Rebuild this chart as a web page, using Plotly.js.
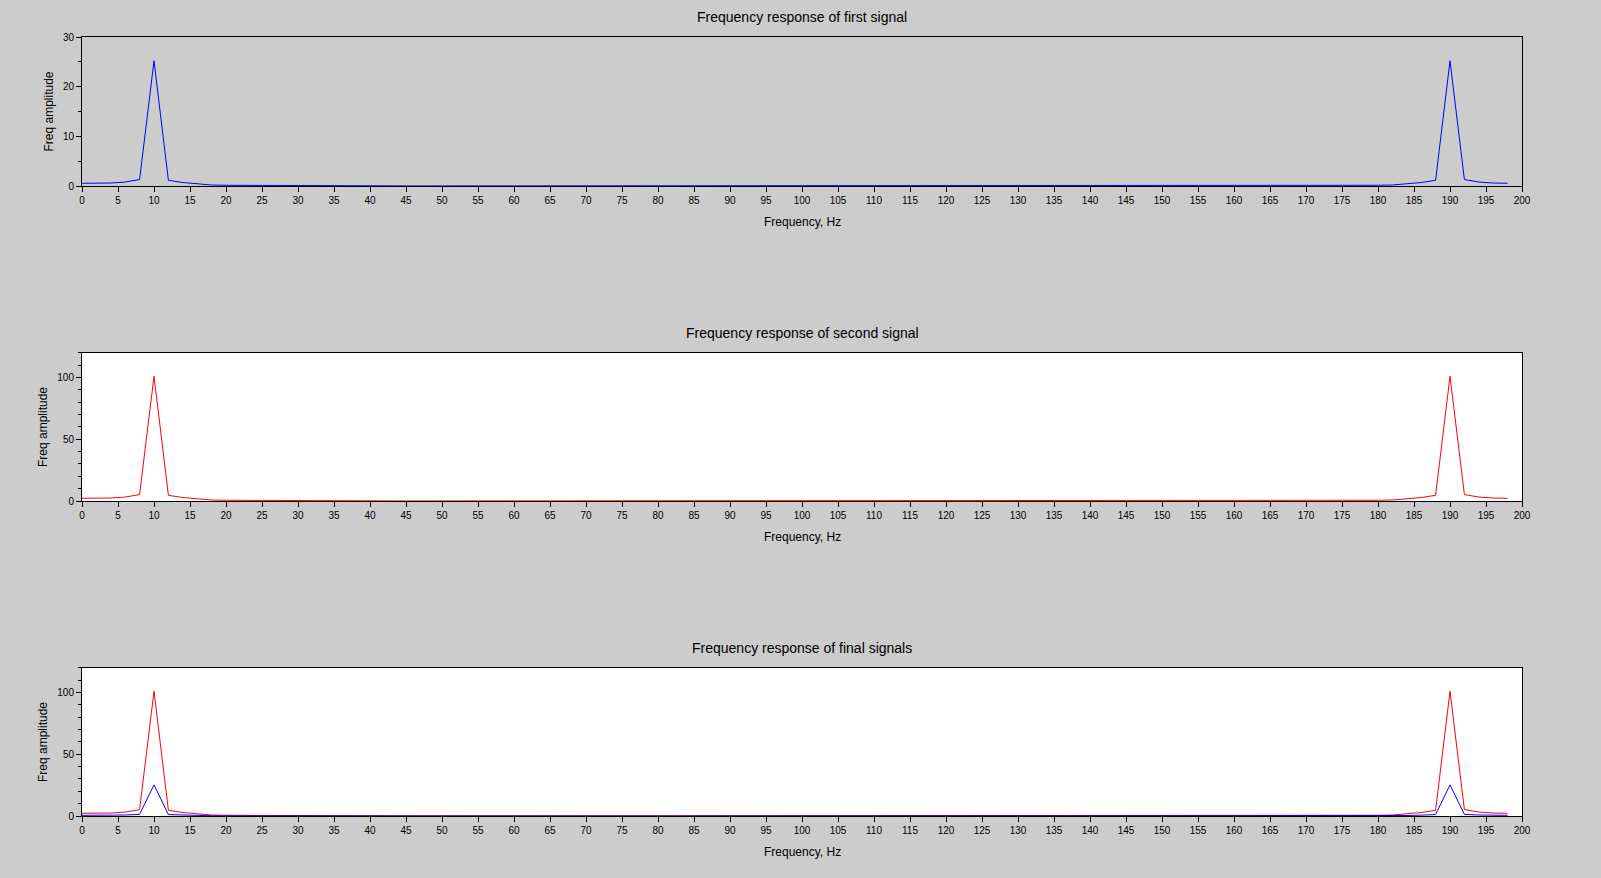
<!DOCTYPE html>
<html>
<head>
<meta charset="utf-8">
<script src="https://cdn.plot.ly/plotly-3.0.1.min.js"></script>
<style>html,body{margin:0;padding:0;background:#cccccc;}#chart{width:1601px;height:878px;}</style>
</head>
<body>
<div id="chart"></div>
<script>
// Frequency axis (Hz)
const freq = [0,2,4,6,8,10,12,14,16,18,20,22,24,26,28,30,32,34,36,38,40,42,44,46,48,50,52,54,56,58,60,62,64,66,68,70,72,74,76,78,80,82,84,86,88,90,92,94,96,98,100,102,104,106,108,110,112,114,116,118,120,122,124,126,128,130,132,134,136,138,140,142,144,146,148,150,152,154,156,158,160,162,164,166,168,170,172,174,176,178,180,182,184,186,188,190,192,194,196,198];

// Magnitude of first signal's spectrum
const firstSignal = [0.55,0.55,0.6,0.8,1.3,25.2,1.15,0.7,0.4,0.2,0.15,0.13,0.12,0.12,0.03,0.02,0.02,0.02,0.01,0.01,0.01,0.01,0.01,0.01,0.01,0.01,0.01,0.01,0.01,0.01,0.01,0.01,0.01,0.01,0.01,0.01,0.01,0.01,0.01,0.01,0.01,0.01,0.01,0.01,0.01,0.01,0.01,0.01,0.01,0.01,0.01,0.01,0.01,0.01,0.01,0.01,0.01,0.01,0.01,0.01,0.01,0.01,0.01,0.01,0.01,0.01,0.01,0.01,0.01,0.01,0.01,0.01,0.01,0.01,0.01,0.01,0.01,0.01,0.01,0.01,0.01,0.01,0.01,0.02,0.02,0.02,0.03,0.12,0.12,0.13,0.15,0.2,0.4,0.7,1.15,25.2,1.3,0.8,0.6,0.55];

// Magnitude of second signal's spectrum
const secondSignal = [2.2,2.2,2.4,3.2,5.2,101,4.6,2.8,1.6,0.8,0.6,0.52,0.5,0.5,0.12,0.08,0.08,0.06,0.04,0.04,0.04,0.04,0.04,0.04,0.04,0.04,0.04,0.04,0.04,0.04,0.04,0.04,0.04,0.04,0.04,0.04,0.04,0.04,0.04,0.04,0.04,0.04,0.04,0.04,0.04,0.04,0.04,0.04,0.04,0.04,0.04,0.04,0.04,0.04,0.04,0.04,0.04,0.04,0.04,0.04,0.04,0.04,0.04,0.04,0.04,0.04,0.04,0.04,0.04,0.04,0.04,0.04,0.04,0.04,0.04,0.04,0.04,0.04,0.04,0.04,0.04,0.04,0.04,0.06,0.08,0.08,0.12,0.5,0.5,0.52,0.6,0.8,1.6,2.8,4.6,101,5.2,3.2,2.4,2.2];

const titles = ["Frequency response of first signal", "Frequency response of second signal", "Frequency response of final signals"];
const xLabel = "Frequency, Hz";
const yLabel = "Freq amplitude";

const FONT = "Liberation Sans, Arial, Helvetica, sans-serif";

const traces = [
  {x: freq, y: firstSignal, xaxis: 'x', yaxis: 'y', mode: 'lines', line: {color: '#0000ff', width: 1}},
  {x: freq, y: secondSignal, xaxis: 'x2', yaxis: 'y2', mode: 'lines', line: {color: '#ff0000', width: 1}},
  {x: freq, y: secondSignal, xaxis: 'x3', yaxis: 'y3', mode: 'lines', line: {color: '#ff0000', width: 1}},
  {x: freq, y: firstSignal, xaxis: 'x3', yaxis: 'y3', mode: 'lines', line: {color: '#0000ff', width: 1}}
];

// geometry in pixels
const T = 37, B = 62, H = 878 - T - B, L = 82, R = 79;
const py = p => (878 - B - p) / H;   // pixel y -> paper y

function xax(anchor) {
  return {anchor: anchor, range: [0, 200], tick0: 0, dtick: 5, ticks: 'outside', ticklen: 5, tickcolor: '#000',
    showline: true, linecolor: '#000', linewidth: 1, mirror: true, showgrid: false, zeroline: false, layer: 'above traces',
    tickfont: {family: FONT, size: 10, color: '#000'}, fixedrange: true};
}
function yax(anchor, domain, range, dtick, minor) {
  return {anchor: anchor, domain: domain, range: range, tick0: 0, dtick: dtick, ticks: 'outside', ticklen: 5, tickcolor: '#000',
    minor: {dtick: minor, ticks: 'outside', ticklen: 3, tickcolor: '#000', showgrid: false},
    showline: true, linecolor: '#000', linewidth: 1, mirror: true, showgrid: false, zeroline: false, layer: 'above traces',
    tickfont: {family: FONT, size: 10, color: '#000'}, fixedrange: true};
}

const d1 = [py(186), 1];
const d2 = [py(501), py(352.7)];
const d3 = [0, py(667.7)];

const ann = [];
const titleY = [17.4, 333, 648];
const xtY = [221.6, 537, 851.5];
const ytX = [48, 43, 43];
const ytY = [111.5, 427, 742];
for (let i = 0; i < 3; i++) {
  ann.push({text: titles[i], xref: 'paper', yref: 'paper', x: 0.5, y: py(titleY[i]), xanchor: 'center', yanchor: 'middle', showarrow: false, font: {family: FONT, size: 14, color: '#000'}});
  ann.push({text: xLabel, xref: 'paper', yref: 'paper', x: 0.5, y: py(xtY[i]), xanchor: 'center', yanchor: 'middle', showarrow: false, font: {family: FONT, size: 12, color: '#000'}});
  ann.push({text: yLabel, xref: 'paper', yref: 'paper', x: (ytX[i] - L) / (1601 - L - R), y: py(ytY[i]), xanchor: 'center', yanchor: 'middle', textangle: -90, showarrow: false, font: {family: FONT, size: 12, color: '#000'}});
}

const layout = {
  width: 1601, height: 878,
  paper_bgcolor: '#cccccc', plot_bgcolor: '#cccccc',
  margin: {l: L, r: R, t: T, b: B, pad: 0},
  showlegend: false,
  xaxis: xax('y'), yaxis: yax('x', d1, [0, 30], 10, 5),
  xaxis2: xax('y2'), yaxis2: yax('x2', d2, [0, 120], 50, 10),
  xaxis3: xax('y3'), yaxis3: yax('x3', d3, [0, 120], 50, 10),
  shapes: [
    {type: 'rect', xref: 'x2 domain', yref: 'y2 domain', x0: 0, x1: 1, y0: 0, y1: 1, fillcolor: '#ffffff', line: {width: 0}, layer: 'below'},
    {type: 'rect', xref: 'x3 domain', yref: 'y3 domain', x0: 0, x1: 1, y0: 0, y1: 1, fillcolor: '#ffffff', line: {width: 0}, layer: 'below'}
  ],
  annotations: ann
};

Plotly.newPlot('chart', traces, layout, {displayModeBar: false, staticPlot: true});
</script>
</body>
</html>
